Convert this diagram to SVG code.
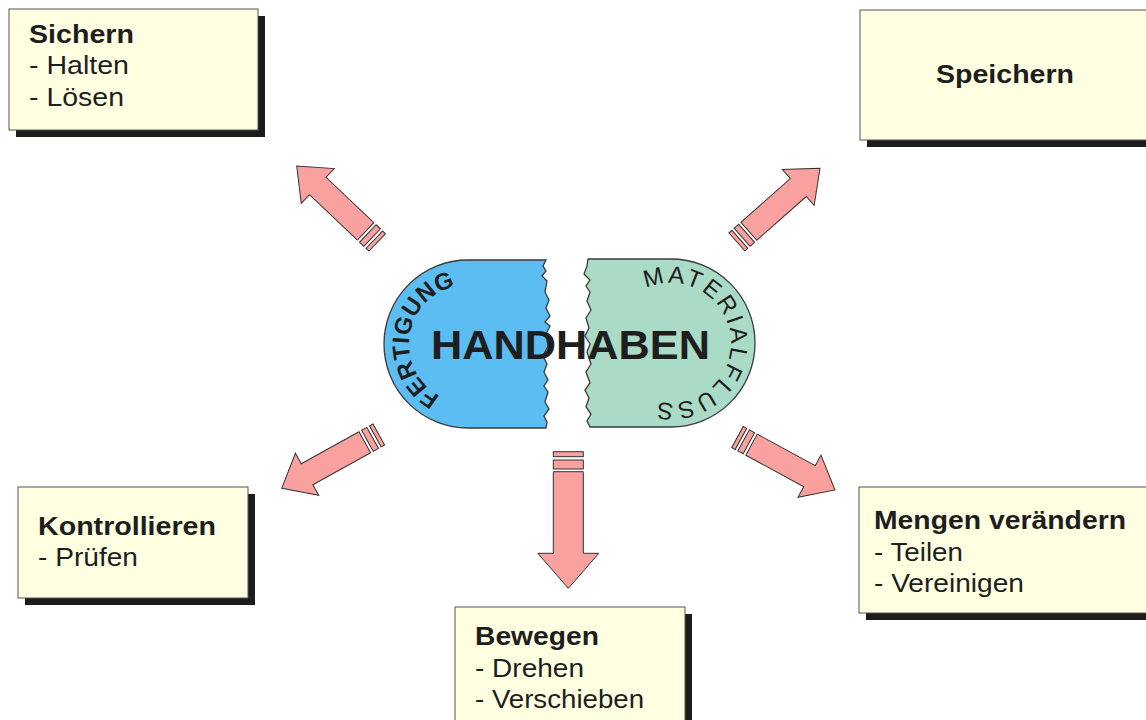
<svg xmlns="http://www.w3.org/2000/svg" xmlns:xlink="http://www.w3.org/1999/xlink" width="1146" height="720" viewBox="0 0 1146 720">
<style>
.box{fill:#FFFFE1;stroke:#555;stroke-width:1}
.shadow{fill:#1c1c1c}
.t{font-family:"Liberation Sans",Arial,sans-serif;font-size:26px;fill:#1e1e1e}
.b{font-weight:bold}
.arrow{fill:#F9A19F;stroke:#333;stroke-width:1}
.edge{stroke:#3a3a3a;stroke-width:1.3}
.arc{font-family:"Liberation Sans",Arial,sans-serif;font-size:24px;fill:#1e1e1e}
</style>
<defs>
<g id="arrowD">
<path class="arrow" d="M0,0 L-29,-24 L-29,-12 L-95,-12 L-95,12 L-29,12 L-29,24 Z"/>
<rect class="arrow" x="-104" y="-12" width="6" height="24"/>
<rect class="arrow" x="-111" y="-12" width="4" height="24"/>
</g>
<path id="arcL" d="M440.3,396.1 A59,59 0 0,1 455.7,286.3"/>
<path id="arcR" d="M636.6,293.8 A60,60 0 1,1 645.6,397.4"/>
</defs>
<rect width="1146" height="720" fill="#fff"/>

<g id="connectors">
<use xlink:href="#arrowD" transform="translate(296.7,166) rotate(-136.5)"/>
<use xlink:href="#arrowD" transform="translate(820,168.3) rotate(-41.5)"/>
<use xlink:href="#arrowD" transform="translate(281.7,488.3) rotate(151)"/>
<use xlink:href="#arrowD" transform="translate(835,490) rotate(28.5)"/>
<g transform="translate(568.3,588.3) rotate(90)">
<path class="arrow" d="M0,0 L-35,-30.5 L-35,-15 L-116.6,-15 L-116.6,15 L-35,15 L-35,30.5 Z"/>
<rect class="arrow" x="-128.3" y="-15" width="9" height="30"/>
<rect class="arrow" x="-136.6" y="-15" width="5" height="30"/>
</g>
</g>

<g id="center">
<path class="edge" fill="#5CBDF2" d="M468,260 L546,260 L543,266 L546,271 L542,276 L547,281 L545,292 L549,300 L546,308 L550,316 L545,322 L550,326 L546,334 L548,346 L543,356 L547,364 L544,372 L548,380 L544,386 L548,392 L545,402 L549,409 L544,416 L547,422 L546,428 L468,428 A84,84 0 0,1 468,260 Z"/>
<path class="edge" fill="#A9DBC6" d="M588,259 L671,259 A84,84 0 0,1 671,427 L590,427 L587,421 L591,414 L586,407 L589,398 L585,390 L590,383 L586,372 L591,364 L587,352 L590,344 L585,336 L589,328 L586,318 L591,310 L587,301 L590,292 L586,286 L590,280 L584,274 L587,266 Z"/>
<text class="arc b" letter-spacing="0.3"><textPath xlink:href="#arcL" startOffset="50%" text-anchor="middle">FERTIGUNG</textPath></text>
<text class="arc" letter-spacing="2.6"><textPath xlink:href="#arcR" startOffset="50%" text-anchor="middle">MATERIALFLUSS</textPath></text>
<text class="t b" x="431" y="359" textLength="279" lengthAdjust="spacingAndGlyphs" style="font-size:41px">HANDHABEN</text>
</g>

<g id="box-sichern">
<rect class="shadow" x="16" y="16" width="249" height="121"/>
<rect class="box" x="9" y="9" width="249" height="121"/>
<text class="t b" x="29" y="43" textLength="105" lengthAdjust="spacingAndGlyphs">Sichern</text>
<text class="t" x="29" y="74" textLength="100" lengthAdjust="spacingAndGlyphs">- Halten</text>
<text class="t" x="29" y="106" textLength="95" lengthAdjust="spacingAndGlyphs">- Lösen</text>
</g>

<g id="box-speichern">
<rect class="shadow" x="867" y="17" width="300" height="130"/>
<rect class="box" x="860" y="10" width="300" height="130"/>
<text class="t b" x="936" y="83" textLength="138" lengthAdjust="spacingAndGlyphs">Speichern</text>
</g>

<g id="box-kontrollieren">
<rect class="shadow" x="25" y="494" width="230" height="111"/>
<rect class="box" x="18" y="487" width="230" height="111"/>
<text class="t b" x="38" y="535" textLength="178" lengthAdjust="spacingAndGlyphs">Kontrollieren</text>
<text class="t" x="38" y="566" textLength="100" lengthAdjust="spacingAndGlyphs">- Prüfen</text>
</g>

<g id="box-bewegen">
<rect class="shadow" x="462" y="614" width="230" height="130"/>
<rect class="box" x="455" y="607" width="230" height="130"/>
<text class="t b" x="475" y="645" textLength="124" lengthAdjust="spacingAndGlyphs">Bewegen</text>
<text class="t" x="475" y="677" textLength="109" lengthAdjust="spacingAndGlyphs">- Drehen</text>
<text class="t" x="475" y="708" textLength="169" lengthAdjust="spacingAndGlyphs">- Verschieben</text>
</g>

<g id="box-mengen">
<rect class="shadow" x="866" y="494" width="300" height="126"/>
<rect class="box" x="859" y="487" width="300" height="126"/>
<text class="t b" x="874" y="529" textLength="252" lengthAdjust="spacingAndGlyphs">Mengen verändern</text>
<text class="t" x="874" y="561" textLength="89" lengthAdjust="spacingAndGlyphs">- Teilen</text>
<text class="t" x="874" y="592" textLength="150" lengthAdjust="spacingAndGlyphs">- Vereinigen</text>
</g>
</svg>
